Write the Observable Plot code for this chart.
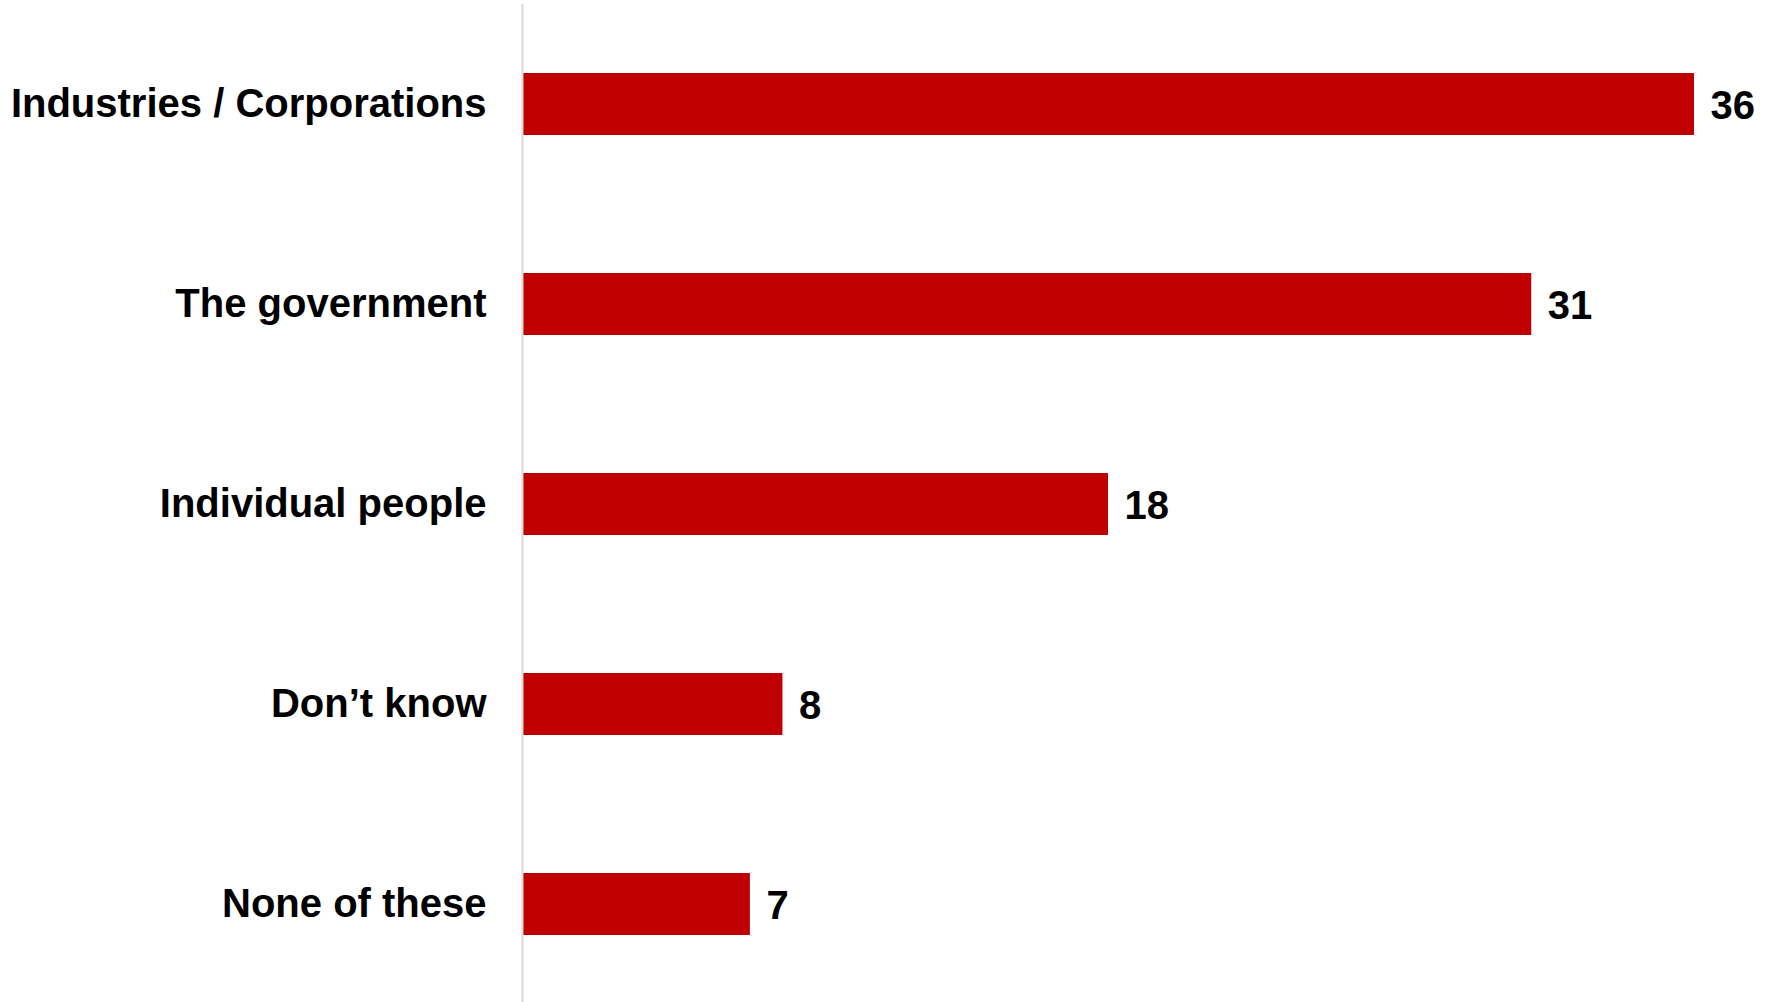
<!DOCTYPE html>
<html>
<head>
<meta charset="utf-8">
<script src="https://cdn.jsdelivr.net/npm/d3@7"></script>
<script src="https://cdn.jsdelivr.net/npm/@observablehq/plot@0.6"></script>
<style>
  html, body { margin: 0; padding: 0; background: #fff; }
  #chart svg { display: block; }
</style>
</head>
<body>
<div id="chart"></div>
<script>
const categories = ["Industries / Corporations", "The government", "Individual people", "Don\u2019t know", "None of these"];
const values = [36, 31, 18, 8, 7];

const data = categories.map((c, i) => ({category: c, value: values[i]}));

const chart = Plot.plot({
  width: 1768,
  height: 1002,
  marginLeft: 522,
  marginRight: 74,
  marginTop: 4,
  marginBottom: 0,
  style: {fontFamily: "'Liberation Sans', Arial, sans-serif", background: "#fff", color: "#000"},
  x: {domain: [0, 36], axis: null},
  y: {domain: categories, range: [4, 1004], paddingInner: 0.69, paddingOuter: 0.345, label: null},
  marks: [
    Plot.barX(data, {x: "value", y: "category", fill: "#C00000"}),
    Plot.ruleX([0], {stroke: "#d9d9d9", strokeWidth: 2}),
    Plot.axisY({tickSize: 0, tickPadding: 36, fontSize: 40, fontWeight: "bold", fill: "#000", label: null, textAnchor: "end"}),
    Plot.text(data, {x: "value", y: "category", text: d => String(d.value), textAnchor: "start", dx: 16, dy: 2, fontSize: 40, fontWeight: "bold", fill: "#000"})
  ]
});
document.getElementById("chart").appendChild(chart);
</script>
</body>
</html>
